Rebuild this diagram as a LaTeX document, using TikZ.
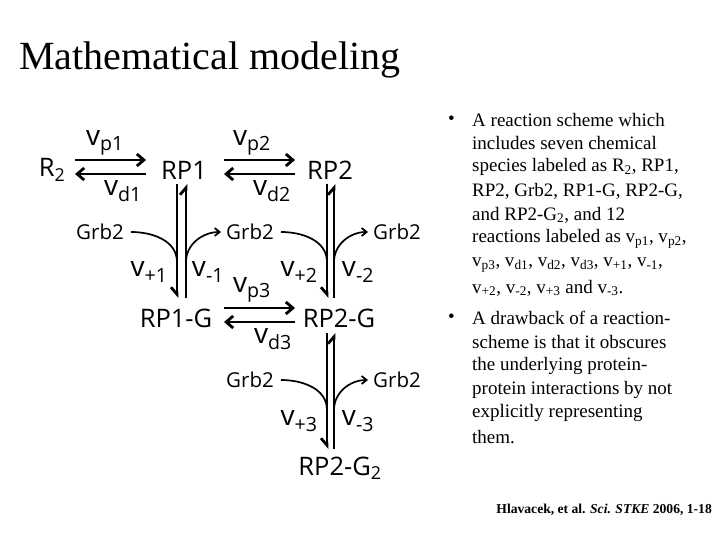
\documentclass[tikz,border=0pt]{standalone}
\usepackage{fontspec}
\setmainfont{Liberation Serif}
\newfontfamily\dg{Open Sans}
\usetikzlibrary{arrows.meta}
\newcommand{\sbs}[1]{\textsubscript{#1}}
\begin{document}
\begin{tikzpicture}[x=1pt,y=-1pt,
  sp/.style={font=\dg\fontsize{25.5}{28}\selectfont,inner sep=0pt},
  rt/.style={font=\dg\fontsize{28}{30}\selectfont,inner sep=0pt},
  gb/.style={font=\dg\fontsize{20.5}{24}\selectfont,inner sep=0pt},
  ar/.style={line width=2.8pt,-{Straight Barb[length=7pt,width=12pt]}},
  hl/.style={line width=2.8pt,-{Straight Barb[left,length=7pt,width=12pt]}},
  hr/.style={line width=2.8pt,-{Straight Barb[right,length=7pt,width=12pt]}},
  cv/.style={line width=1.7pt},
  tx/.style={anchor=west,inner sep=0pt,font=\fontsize{19}{22}\selectfont}]
\useasboundingbox (0,0) rectangle (720,540);
\node[anchor=west,inner sep=0pt,font=\fontsize{40}{44}\selectfont] (title) at (19,60) {Mathematical modeling};
% species
\node[sp] (R2) at (52,170) {R\sbs{2}};
\node[sp] (RP1) at (184,170) {RP1};
\node[sp] (RP2) at (330,170) {RP2};
\node[sp] (RP1G) at (176,318) {RP1-G};
\node[sp] (RP2G) at (339,318) {RP2-G};
\node[sp] (RP2G2) at (340,468) {RP2-G\sbs{2}};
% coordinates
\coordinate (a1) at (75,160); \coordinate (b1) at (146,160);
\coordinate (a2) at (146,174); \coordinate (b2) at (75,174);
\coordinate (a3) at (224,160); \coordinate (b3) at (295,160);
\coordinate (a4) at (295,174); \coordinate (b4) at (224,174);
\coordinate (a5) at (224,308); \coordinate (b5) at (295,308);
\coordinate (a6) at (295,322); \coordinate (b6) at (224,322);
\draw[ar] (a1) -- (b1); \draw[ar] (a2) -- (b2);
\draw[ar] (a3) -- (b3); \draw[ar] (a4) -- (b4);
\draw[ar] (a5) -- (b5); \draw[ar] (a6) -- (b6);
% verticals
\coordinate (c1) at (177,184); \coordinate (d1) at (177,298);
\coordinate (e1) at (186,298); \coordinate (f1) at (186,184);
\coordinate (c2) at (327,184); \coordinate (d2) at (327,298);
\coordinate (e2) at (334,298); \coordinate (f2) at (334,184);
\coordinate (c3) at (327,333); \coordinate (d3) at (327,449);
\coordinate (e3) at (334,449); \coordinate (f3) at (334,333);
\draw[hr] (c1) -- (d1); \draw[hl] (e1) -- (f1);
\draw[hr] (c2) -- (d2); \draw[hl] (e2) -- (f2);
\draw[hr] (c3) -- (d3); \draw[hl] (e3) -- (f3);
% Grb2 labels
\node[gb] (g1) at (100,232) {Grb2};
\node[gb] (g2) at (250,232) {Grb2};
\node[gb] (g3) at (397,232) {Grb2};
\node[gb] (g4) at (250,380) {Grb2};
\node[gb] (g5) at (397,380) {Grb2};
\draw[cv] (g1.east)++(7,0) to[out=0,in=90] (177,262);
\draw[cv,-{Straight Barb[length=5pt,width=8pt]}] (186,262) to[out=90,in=180] ([xshift=-5pt]g2.west);
\draw[cv] (g2.east)++(7,0) to[out=0,in=90] (327,262);
\draw[cv,-{Straight Barb[length=5pt,width=8pt]}] (334,262) to[out=90,in=180] ([xshift=-5pt]g3.west);
\draw[cv] (g4.east)++(7,0) to[out=0,in=90] (327,410);
\draw[cv,-{Straight Barb[length=5pt,width=8pt]}] (334,410) to[out=90,in=180] ([xshift=-5pt]g5.west);
% rate labels
\node[rt] (vp1) at (105,143) {v\sbs{p1}};
\node[rt] (vd1) at (123,191) {v\sbs{d1}};
\node[rt] (vp2) at (252,143) {v\sbs{p2}};
\node[rt] (vd2) at (272,191) {v\sbs{d2}};
\node[rt] (vp3) at (252,290) {v\sbs{p3}};
\node[rt] (vd3) at (273,339) {v\sbs{d3}};
\node[rt] (vp1x) at (149,272) {v\sbs{+1}};
\node[rt] (vm1) at (208,272) {v\sbs{-1}};
\node[rt] (vp2x) at (299,272) {v\sbs{+2}};
\node[rt] (vm2) at (358,272) {v\sbs{-2}};
\node[rt] (vp3x) at (299,421) {v\sbs{+3}};
\node[rt] (vm3) at (358,421) {v\sbs{-3}};
% right text
\node[tx] (bu1) at (448,120) {•};
\node[tx] (l1) at (472,120) {A reaction scheme which};
\node[tx] (l2) at (472,143) {includes seven chemical};
\node[tx] (l3) at (472,167) {species labeled as R\sbs{2}, RP1,};
\node[tx] (l4) at (472,191) {RP2, Grb2, RP1-G, RP2-G,};
\node[tx] (l5) at (472,215) {and RP2-G\sbs{2}, and 12};
\node[tx] (l6) at (472,239) {reactions labeled as v\sbs{p1}, v\sbs{p2},};
\node[tx] (l7) at (472,265) {v\sbs{p3}, v\sbs{d1}, v\sbs{d2}, v\sbs{d3}, v\sbs{+1}, v\sbs{-1},};
\node[tx] (l8) at (472,288) {v\sbs{+2}, v\sbs{-2}, v\sbs{+3} and v\sbs{-3}.};
\node[tx] (bu2) at (448,318) {•};
\node[tx] (m1) at (472,318) {A drawback of a reaction-};
\node[tx] (m2) at (472,342) {scheme is that it obscures};
\node[tx] (m3) at (472,366) {the underlying protein-};
\node[tx] (m4) at (472,390) {protein interactions by not};
\node[tx] (m5) at (472,413) {explicitly representing};
\node[tx] (m6) at (472,437) {them.};
\node[anchor=east,inner sep=0pt,font=\bfseries\fontsize{13.6}{15}\selectfont] (cite) at (712,510) {Hlavacek, et al. \textit{Sci. STKE} 2006, 1-18};
\end{tikzpicture}
\end{document}
